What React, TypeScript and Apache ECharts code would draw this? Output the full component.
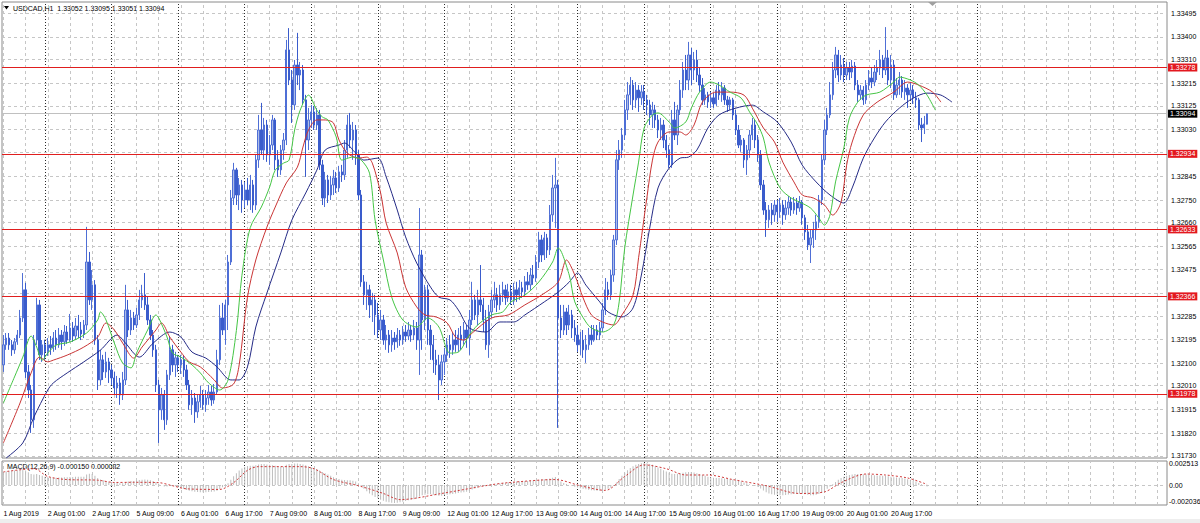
import React, { useEffect, useRef } from "react";
import * as echarts from "echarts";

// ---------- DATA (price points: 1.3 + v / 100000) ----------
// candles: [open, close, low, high]
const aug01 = [[2093,2173,2065,2212],[2173,2200,2153,2220],[2200,2173,2153,2220],[2173,2153,2129,2192],[2153,2185,2137,2200],[2185,2212,2173,2232],[2212,2280,2200,2312],[2280,2392,2264,2459],[2392,2065,2041,2420],[2065,1993,1961,2093],[1993,1874,1822,2013],[1874,2192,1842,2212],[2192,2332,2173,2360],[2332,2133,2113,2352],[2133,2173,2105,2192]];
const aug02 = [[2173,2145,2113,2192],[2145,2173,2129,2200],[2173,2161,2133,2208],[2161,2200,2145,2224],[2200,2173,2153,2232],[2173,2212,2161,2240],[2212,2185,2153,2232],[2185,2224,2169,2252],[2224,2192,2177,2248],[2192,2240,2185,2296],[2240,2208,2185,2264],[2208,2248,2192,2280],[2248,2232,2200,2292],[2232,2216,2192,2264],[2216,2252,2200,2272],[2252,2503,2232,2643],[2503,2352,2332,2543],[2352,2412,2312,2471],[2412,2192,2173,2431],[2192,2033,1993,2212],[2033,2113,2013,2153],[2113,2065,2033,2133],[2065,2105,2041,2145],[2105,2073,2021,2121]];
const aug05 = [[2073,2041,2013,2093],[2041,2001,1973,2065],[2001,2021,1961,2049],[2021,1973,1934,2041],[1973,2033,1953,2065],[2033,2312,2013,2412],[2312,2232,2204,2352],[2232,2280,2212,2312],[2280,2252,2232,2304],[2252,2292,2240,2320],[2292,2352,2272,2392],[2352,2372,2320,2412],[2372,2332,2312,2459],[2332,2272,2252,2364],[2272,2212,2192,2292],[2212,2153,2125,2232],[2153,2013,1985,2173],[2013,1914,1782,2033],[1914,1973,1874,2001],[1973,1874,1834,1993],[1874,2053,1854,2073],[2053,2153,2033,2204],[2153,2093,2065,2173],[2093,2121,2045,2145]];
const aug06 = [[2121,2093,2065,2133],[2093,2113,2057,2133],[2113,2073,2045,2129],[2073,2013,1993,2093],[2013,1934,1914,2033],[1934,1961,1894,1993],[1961,1906,1862,1981],[1906,1946,1882,1973],[1946,1973,1922,2009],[1973,1934,1914,1993],[1934,1961,1906,1993],[1961,1985,1934,2013],[1985,1953,1930,2009],[1953,1985,1938,2017],[1985,2113,1973,2153],[2113,2280,2093,2332],[2280,2232,2212,2340],[2232,2332,2173,2352],[2332,2503,2232,2531],[2503,2758,2491,2790],[2758,2870,2730,2898],[2870,2770,2730,2878],[2770,2810,2710,2838],[2810,2750,2699,2830]];
const aug07 = [[2750,2790,2718,2822],[2790,2750,2730,2838],[2750,2810,2710,2850],[2810,2730,2699,2830],[2730,2910,2710,2930],[2910,3029,2878,3089],[3029,2949,2930,3137],[2949,3049,2910,3077],[3049,2930,2902,3069],[2930,2969,2890,3009],[2969,3069,2949,3089],[3069,2910,2870,3077],[2910,2870,2842,2949],[2870,2949,2850,2969],[2949,2989,2910,3017],[2989,3348,2969,3388],[3348,3228,3208,3435],[3228,3129,3057,3268],[3129,3288,3109,3308],[3288,3248,3208,3416],[3248,3268,3188,3300],[3268,3149,3129,3288],[3149,2989,2842,3169],[2989,3069,2949,3117]];
const aug08 = [[3069,3101,3037,3129],[3101,3049,3029,3125],[3049,3089,3029,3117],[3089,2890,2870,3109],[2890,2758,2730,2910],[2758,2830,2722,2862],[2830,2770,2738,2850],[2770,2810,2750,2846],[2810,2838,2770,2870],[2838,2798,2778,2862],[2798,2862,2782,2886],[2862,2850,2822,2890],[2850,2949,2830,2989],[2949,3049,2918,3089],[3049,2989,2957,3097],[2989,3029,2910,3061],[3029,2930,2890,3049],[2930,2770,2750,2949],[2770,2424,2404,2790],[2424,2372,2332,2451],[2372,2392,2312,2424],[2392,2332,2280,2412],[2332,2352,2264,2380],[2352,2292,2212,2372]];
const aug09 = [[2292,2232,2200,2340],[2232,2272,2192,2312],[2272,2192,2173,2292],[2192,2212,2153,2252],[2212,2173,2141,2232],[2173,2200,2145,2232],[2200,2185,2153,2224],[2185,2212,2161,2240],[2212,2192,2169,2232],[2192,2224,2173,2248],[2224,2208,2185,2252],[2208,2232,2192,2264],[2232,2212,2185,2252],[2212,2240,2192,2272],[2240,2192,2153,2264],[2192,2531,2053,2718],[2531,2272,2153,2551],[2272,2392,2232,2412],[2392,2232,2173,2412],[2232,2173,2113,2252],[2173,2113,2061,2212],[2113,2093,2053,2153],[2093,2033,1953,2133],[2033,2105,2013,2133]];
const aug12 = [[2105,2133,2053,2161],[2133,2173,2105,2200],[2173,2153,2121,2212],[2153,2192,2133,2224],[2192,2173,2145,2232],[2173,2212,2145,2240],[2212,2192,2153,2248],[2192,2232,2173,2264],[2232,2200,2161,2252],[2200,2272,2133,2312],[2272,2352,2252,2424],[2352,2292,2272,2372],[2292,2352,2252,2392],[2352,2332,2304,2491],[2332,2272,2224,2360],[2272,2173,2153,2312],[2173,2304,2121,2332],[2304,2352,2280,2392],[2352,2372,2320,2424],[2372,2332,2304,2400],[2332,2372,2312,2412],[2372,2392,2344,2424],[2392,2360,2332,2412],[2360,2384,2344,2416]];
const aug13 = [[2384,2352,2332,2412],[2352,2392,2332,2420],[2392,2372,2344,2424],[2372,2400,2352,2431],[2400,2384,2360,2424],[2384,2424,2368,2447],[2424,2412,2392,2463],[2412,2451,2392,2479],[2451,2439,2412,2491],[2439,2503,2424,2531],[2503,2591,2479,2623],[2591,2531,2503,2611],[2531,2599,2511,2623],[2599,2551,2519,2615],[2551,2691,2531,2730],[2691,2798,2663,2850],[2798,2810,2639,2918],[2810,2280,1842,2830],[2280,2232,2200,2332],[2232,2304,2212,2332],[2304,2252,2212,2320],[2252,2292,2232,2332],[2292,2240,2200,2312],[2240,2212,2185,2272]];
const aug14 = [[2212,2173,2145,2252],[2173,2192,2133,2224],[2192,2153,2121,2232],[2153,2173,2101,2212],[2173,2212,2153,2240],[2212,2192,2173,2252],[2192,2232,2185,2252],[2232,2212,2192,2252],[2212,2240,2192,2264],[2240,2312,2224,2340],[2312,2392,2292,2439],[2392,2372,2352,2424],[2372,2451,2352,2471],[2451,2591,2424,2611],[2591,2910,2571,2949],[2910,2949,2870,2989],[2949,3009,2918,3037],[3009,3109,2989,3149],[3109,3169,3069,3220],[3169,3208,3129,3240],[3208,3149,3109,3228],[3149,3188,3117,3220],[3188,3157,3101,3208],[3157,3181,3129,3208]];
const aug15 = [[3181,3149,3109,3208],[3149,3129,3089,3169],[3129,3089,3049,3149],[3089,3109,3037,3141],[3109,3069,3037,3129],[3069,3029,2997,3089],[3029,3049,2989,3077],[3049,2989,2957,3069],[2989,2949,2918,3009],[2949,2890,2878,2969],[2890,3069,2878,3109],[3069,3009,2989,3141],[3009,3109,2969,3129],[3109,3188,3089,3228],[3188,3268,3157,3300],[3268,3228,3188,3328],[3228,3328,3188,3380],[3328,3268,3208,3356],[3268,3308,3228,3340],[3308,3248,3220,3348],[3248,3208,3181,3276],[3208,3149,3129,3236],[3149,3169,3129,3196],[3169,3141,3117,3181]];
const aug16 = [[3141,3157,3117,3181],[3157,3133,3117,3177],[3133,3188,3125,3208],[3188,3169,3149,3220],[3169,3196,3141,3220],[3196,3149,3129,3208],[3149,3129,3101,3165],[3129,3149,3109,3161],[3149,3089,3069,3157],[3089,3029,3009,3109],[3029,2969,2957,3049],[2969,2989,2942,3009],[2989,2910,2878,2997],[2910,2949,2850,2969],[2949,3009,2918,3029],[3009,3049,2989,3077],[3049,2989,2957,3069],[2989,2930,2902,3009],[2930,2810,2790,2949],[2810,2710,2691,2830],[2710,2671,2603,2742],[2671,2710,2639,2730],[2710,2691,2651,2738],[2691,2730,2663,2750]];
const aug19 = [[2730,2703,2663,2750],[2703,2730,2679,2758],[2730,2691,2651,2750],[2691,2718,2671,2750],[2718,2742,2691,2766],[2742,2710,2687,2758],[2710,2738,2695,2762],[2738,2718,2691,2758],[2718,2742,2703,2766],[2742,2679,2651,2750],[2679,2623,2591,2691],[2623,2571,2551,2651],[2571,2599,2499,2631],[2599,2631,2559,2663],[2631,2663,2591,2691],[2663,2750,2639,2770],[2750,2910,2730,2930],[2910,3029,2890,3069],[3029,3089,3009,3117],[3089,3169,3077,3220],[3169,3268,3149,3300],[3268,3328,3236,3360],[3328,3248,3220,3348],[3248,3288,3228,3328]];
const aug20 = [[3288,3248,3220,3316],[3248,3276,3228,3300],[3276,3260,3228,3300],[3260,3284,3236,3308],[3284,3208,3188,3300],[3208,3169,3141,3228],[3169,3188,3149,3208],[3188,3149,3129,3204],[3149,3208,3133,3228],[3208,3236,3188,3268],[3236,3220,3196,3276],[3220,3260,3204,3288],[3260,3276,3228,3308],[3276,3308,3248,3348],[3308,3268,3236,3328],[3268,3316,3248,3439],[3316,3228,3208,3348],[3228,3288,3196,3328],[3288,3169,3149,3308],[3169,3208,3157,3236],[3208,3228,3169,3260],[3228,3181,3157,3244],[3181,3196,3149,3228],[3196,3169,3117,3212]];
const aug21 = [[3169,3188,3149,3220],[3188,3157,3133,3208],[3157,3149,3117,3181],[3149,3049,3029,3157],[3049,3037,2981,3077],[3037,3053,3013,3085],[3052,3094,3051,3095]];

// Alligator lines: [bar index, value]
const lipsPts = [[0,1941],[4,2045],[7,2124],[10,2208],[12,2164],[14,2112],[16,2140],[19,2172],[24,2184],[30,2220],[34,2272],[35,2304],[37,2272],[40,2180],[43,2100],[46,2081],[48,2140],[52,2232],[55,2292],[56,2280],[59,2204],[61,2140],[64,2124],[68,2093],[71,2061],[74,2021],[78,1993],[81,2033],[84,2230],[86,2450],[89,2640],[93,2722],[96,2802],[98,2869],[101,2897],[103,2909],[105,3029],[107,3108],[110,3168],[113,3108],[115,3081],[117,3069],[120,3001],[122,2909],[126,2921],[129,2909],[132,2857],[134,2670],[137,2511],[140,2363],[144,2272],[149,2244],[153,2280],[157,2244],[161,2140],[164,2144],[168,2212],[171,2252],[176,2292],[180,2304],[183,2344],[188,2371],[193,2423],[198,2503],[200,2559],[204,2451],[206,2344],[210,2264],[212,2240],[216,2224],[220,2252],[222,2344],[224,2559],[227,2770],[229,2901],[231,3037],[234,3089],[236,3097],[240,3061],[242,3037],[246,3061],[248,3116],[251,3180],[255,3220],[258,3208],[262,3180],[266,3156],[269,3101],[272,3049],[274,2997],[276,2901],[280,2798],[284,2758],[287,2742],[291,2718],[294,2678],[296,2650],[298,2690],[300,2822],[303,2957],[305,3077],[308,3140],[311,3168],[316,3180],[321,3220],[323,3240],[327,3228],[330,3208],[333,3168],[336,3108]];
const teethPts = [[0,1782],[6,1941],[10,2061],[13,2124],[16,2105],[18,2112],[23,2132],[29,2164],[34,2204],[37,2260],[40,2232],[43,2180],[47,2120],[50,2164],[55,2232],[57,2260],[60,2204],[64,2144],[67,2105],[71,2085],[76,2033],[79,2001],[83,2017],[85,2093],[88,2363],[91,2511],[95,2642],[98,2722],[102,2818],[106,2881],[108,2961],[110,3029],[113,3069],[116,3069],[119,3057],[121,2989],[124,2937],[128,2917],[131,2921],[133,2897],[136,2778],[138,2658],[142,2539],[145,2403],[149,2324],[152,2292],[156,2284],[160,2260],[163,2204],[166,2192],[169,2220],[176,2280],[182,2292],[188,2332],[194,2371],[200,2423],[203,2511],[206,2451],[209,2360],[212,2292],[216,2264],[220,2252],[223,2292],[227,2371],[229,2520],[232,2760],[234,2909],[236,2981],[240,3021],[244,3021],[246,3009],[249,3049],[252,3140],[257,3180],[262,3180],[267,3168],[270,3116],[274,3037],[278,2981],[281,2901],[285,2822],[288,2770],[292,2758],[296,2730],[299,2690],[302,2742],[304,2889],[306,2981],[310,3089],[315,3140],[321,3180],[326,3220],[330,3208],[335,3180],[338,3140]];
const jawPts = [[1,1722],[7,1782],[11,1885],[16,1993],[18,2021],[23,2061],[29,2105],[35,2152],[41,2212],[44,2180],[49,2124],[54,2180],[60,2224],[64,2204],[68,2144],[73,2120],[77,2085],[82,2033],[85,2033],[88,2085],[91,2244],[95,2379],[100,2539],[104,2670],[109,2778],[113,2869],[116,2949],[121,2969],[123,2977],[127,2937],[130,2909],[135,2917],[138,2842],[142,2710],[145,2603],[149,2499],[154,2403],[157,2363],[161,2352],[164,2312],[168,2240],[174,2224],[179,2264],[184,2264],[188,2292],[195,2344],[200,2383],[204,2423],[207,2459],[210,2411],[215,2344],[218,2304],[223,2284],[227,2320],[230,2451],[233,2638],[236,2798],[240,2877],[244,2917],[247,2921],[250,2949],[254,3037],[258,3089],[264,3116],[270,3128],[274,3101],[279,3061],[284,2981],[288,2889],[293,2822],[298,2770],[303,2738],[306,2798],[310,2917],[314,2997],[318,3061],[323,3116],[328,3156],[333,3176],[338,3168],[342,3140]];

// MACD main (histogram), units of 1e-6, one per bar
const macdMain = [
  1500,1550,1600,1650,1650,1700,1750,1800,1650,1450,1250,1200,1250,1150,1050,
  950,900,880,850,850,860,870,880,900,920,930,940,950,950,960,1200,1300,1250,1050,800,650,550,450,380,
  350,300,250,220,200,350,420,460,480,520,580,620,650,620,560,480,350,150,0,-150,-150,-100,-100,-120,
  -250,-350,-450,-550,-650,-700,-750,-780,-800,-800,-800,-780,-760,-740,-650,-450,-250,-50,200,600,1000,1350,1650,1900,
  2050,2150,2200,2200,2250,2350,2400,2400,2350,2300,2250,2200,2150,2100,2100,2300,2400,2400,2450,2450,2400,2350,2250,2150,
  2000,1900,1800,1650,1500,1350,1200,1050,900,800,700,620,580,560,550,500,400,200,-100,-400,-700,-950,-1150,-1350,
  -1500,-1650,-1780,-1880,-1950,-2000,-2036,-2000,-1950,-1880,-1800,-1720,-1650,-1600,-1550,-1300,-1150,-1100,-1050,-1050,-1100,-1150,-1200,-1200,
  -1150,-1100,-1050,-1000,-950,-900,-850,-800,-750,-650,-500,-380,-280,-150,-100,-120,-50,0,60,120,180,230,280,320,
  350,380,400,420,440,460,480,500,520,560,620,660,680,700,760,850,920,600,400,250,120,0,-100,-200,
  -280,-350,-420,-480,-540,-580,-620,-650,-650,-620,-520,-420,-300,-100,300,700,1050,1400,1700,1950,2150,2300,2400,2480,
  2513,2490,2400,2300,2150,2000,1850,1700,1550,1400,1300,1250,1300,1350,1400,1450,1500,1480,1420,1350,1250,1150,1050,950,
  900,850,820,800,780,760,720,680,620,560,480,400,300,200,100,20,-80,-200,-380,-600,-800,-950,-1050,-1100,
  -1100,-1150,-1150,-1120,-1080,-1050,-1000,-980,-980,-1000,-1050,-1100,-1150,-1150,-1100,-1000,-850,-650,-400,-150,100,350,600,800,
  950,1050,1150,1200,1250,1250,1250,1230,1200,1180,1150,1130,1100,1080,1060,1050,1000,950,900,870,850,800,750,680,
  600,500,400,250,100,-50,-150,
];
const macdSignalPts = [[0,1500],[11,1860],[16,980],[23,630],[34,560],[40,300],[47,320],[56,280],[61,-70],[66,-420],[78,-490],[83,280],[88,1680],[92,2100],[107,2100],[112,1860],[119,630],[128,-70],[137,-950],[143,-1650],[158,-950],[175,0],[182,280],[199,630],[208,-70],[217,-600],[224,980],[231,2300],[239,1860],[246,1150],[254,1150],[263,630],[275,-70],[287,-950],[296,-770],[302,280],[311,1260],[318,1150],[326,810],[333,82]];

// right-axis price ticks; the two hidden behind level tags carry no label in the picture
const priceTicks = [1.33495,1.334,1.3331,1.33215,1.33125,1.3303,1.3294,1.32845,1.3275,1.3266,1.32565,1.32475,1.3238,1.32285,1.32195,1.321,1.3201,1.31915,1.3182,1.3173];
const hiddenTickLabels = [1.3294, 1.3238];
const levels = [1.33278,1.32934,1.32633,1.32366,1.31978];
const currentPrice = 1.33094;
const macdTicks = [0.002513, 0, -0.002036];
const macdTickText = ["0.002513", "0.00", "-0.002036"];
const timeTicks = ["1 Aug 2019","2 Aug 01:00","2 Aug 17:00","5 Aug 09:00","6 Aug 01:00","6 Aug 17:00","7 Aug 09:00","8 Aug 01:00","8 Aug 17:00","9 Aug 09:00","12 Aug 01:00","12 Aug 17:00","13 Aug 09:00","14 Aug 01:00","14 Aug 17:00","15 Aug 09:00","16 Aug 01:00","16 Aug 17:00","19 Aug 09:00","20 Aug 01:00","20 Aug 17:00"];
const daySeparators = [15,39,63,87,111,135,159,183,207,231,255,279,303,327,351];

// ---------- helpers ----------
const N_SLOTS = 420;
const FONT = "Liberation Sans";
const toPrice = (v: number) => Math.round(130000 + v) / 100000;
const candles = [...aug01, ...aug02, ...aug05, ...aug06, ...aug07, ...aug08, ...aug09, ...aug12, ...aug13, ...aug14, ...aug15, ...aug16, ...aug19, ...aug20, ...aug21].map((c) => c.map(toPrice));
const gridCols = Array.from({ length: 53 }, (_, k) => k * 8);

export default function App() {
  const ref = useRef<HTMLDivElement>(null);
  useEffect(() => {
    const chart = echarts.init(ref.current!, null, { renderer: "svg" });
    const cats = Array.from({ length: N_SLOTS }, (_, i) => String(i));
    const last = candles[candles.length - 1];
    const title = `USDCAD,H1  ${last[0].toFixed(5)} ${last[3].toFixed(5)} ${last[2].toFixed(5)} ${last[1].toFixed(5)}`;
    const lastMacd = macdMain[macdMain.length - 1] / 1e6;
    const lastSig = macdSignalPts[macdSignalPts.length - 1][1] / 1e6;
    const macdTitle = `MACD(12,26,9) ${lastMacd.toFixed(6)} ${lastSig.toFixed(6)}`;

    const gridLineStyle = { color: "#c6c6c6", type: [3, 3], width: 1 };
    const sepStyle = { color: "#2a2a2a", type: [1, 2], width: 1 };
    const vLines = [
      ...gridCols.map((i) => ({ xAxis: i, lineStyle: gridLineStyle, label: { show: false } })),
      ...daySeparators.map((i) => ({ xAxis: i, lineStyle: sepStyle, label: { show: false } })),
    ];
    const tickLabel = (text: string, extra: any = {}) => ({
      show: true, position: "end", formatter: text, color: "#000", fontSize: 7, fontFamily: FONT, distance: 4, ...extra,
    });

    const option: any = {
      animation: false,
      backgroundColor: "#ffffff",
      textStyle: { fontFamily: FONT },
      grid: [
        { left: 2, top: 2, width: 1165, height: 456, show: true, borderColor: "#8a8a8a", borderWidth: 1 },
        { left: 2, top: 461, width: 1165, height: 44, show: true, borderColor: "#8a8a8a", borderWidth: 1 },
      ],
      xAxis: [
        { type: "category", gridIndex: 0, data: cats, boundaryGap: true, show: false },
        {
          type: "category", gridIndex: 1, data: cats, boundaryGap: true,
          axisLine: { show: false }, axisTick: { show: false }, splitLine: { show: false },
          axisLabel: {
            interval: (i: number) => i % 16 === 0 && i / 16 < timeTicks.length,
            formatter: (_v: string, i: number) => timeTicks[i / 16] ?? "",
            align: "left", fontSize: 7, color: "#000", margin: 5, fontFamily: FONT,
          },
        },
      ],
      yAxis: [
        { type: "value", gridIndex: 0, min: 1.31722, max: 1.33539, show: false },
        { type: "value", gridIndex: 1, min: -0.00226, max: 0.00274, show: false },
      ],
      series: [
        {
          type: "line", name: "grid", xAxisIndex: 0, yAxisIndex: 0, data: [], clip: false, silent: true,
          markLine: {
            silent: true, symbol: ["none", "none"], z: 1, animation: false, precision: 6,
            data: [
              ...priceTicks.map((v) => ({
                yAxis: v, lineStyle: gridLineStyle,
                label: hiddenTickLabels.includes(v) ? { show: false } : tickLabel(v.toFixed(5)),
              })),
              ...vLines,
              { yAxis: currentPrice, lineStyle: { color: "#c0c0c0", type: "solid", width: 1 },
                label: tickLabel(currentPrice.toFixed(5), { backgroundColor: "#000", color: "#fff", padding: [1, 2, 0, 2], distance: 1 }) },
            ],
          },
        },
        {
          type: "line", name: "levels", xAxisIndex: 0, yAxisIndex: 0, data: [], clip: false, silent: true, z: 6,
          markLine: {
            silent: true, symbol: ["none", "none"], z: 8, animation: false, precision: 6,
            data: levels.map((v) => ({
              yAxis: v, lineStyle: { color: "#e01e1e", type: "solid", width: 1, opacity: 1 },
              label: tickLabel(v.toFixed(5), { backgroundColor: "#e3181f", color: "#fff", padding: [1, 2, 0, 2], distance: 1 }),
            })),
          },
        },
        {
          type: "candlestick", name: "USDCAD", xAxisIndex: 0, yAxisIndex: 0, data: candles, barWidth: 1.8, z: 3,
          itemStyle: { color: "#aebde8", color0: "#3a5ccc", borderColor: "#4f6fd6", borderColor0: "#3a5ccc", borderWidth: 1 },
        },
        { type: "line", name: "Jaw", xAxisIndex: 0, yAxisIndex: 0, z: 4, showSymbol: false, smooth: 0.3,
          data: jawPts.map(([i, v]) => [i, toPrice(v)]), lineStyle: { color: "#252b86", width: 1 } },
        { type: "line", name: "Teeth", xAxisIndex: 0, yAxisIndex: 0, z: 4, showSymbol: false, smooth: 0.3,
          data: teethPts.map(([i, v]) => [i, toPrice(v)]), lineStyle: { color: "#c93535", width: 1 } },
        { type: "line", name: "Lips", xAxisIndex: 0, yAxisIndex: 0, z: 4, showSymbol: false, smooth: 0.3,
          data: lipsPts.map(([i, v]) => [i, toPrice(v)]), lineStyle: { color: "#45c545", width: 1 } },
        {
          type: "line", name: "macdgrid", xAxisIndex: 1, yAxisIndex: 1, data: [], clip: false, silent: true,
          markLine: {
            silent: true, symbol: ["none", "none"], z: 1, animation: false, precision: 8,
            data: [
              ...macdTicks.map((v, k) => ({
                yAxis: v,
                lineStyle: k === 1 ? gridLineStyle : { color: "rgba(255,255,255,0)", width: 0 },
                label: tickLabel(macdTickText[k], { distance: 2, offset: [0, k === 0 ? 1 : k === 2 ? -2 : 0] }),
              })),
              ...vLines,
            ],
          },
        },
        { type: "bar", name: "MACD", xAxisIndex: 1, yAxisIndex: 1, z: 2, barWidth: 1,
          data: macdMain.map((v) => v / 1e6), itemStyle: { color: "#bdbdbd" } },
        { type: "line", name: "Signal", xAxisIndex: 1, yAxisIndex: 1, z: 3, showSymbol: false, smooth: 0.3,
          data: macdSignalPts.map(([i, v]) => [i, v / 1e6]), lineStyle: { color: "#d03a3a", type: [2, 2], width: 1 } },
      ],
      graphic: [
        { type: "polygon", shape: { points: [[4, 6], [9, 6], [6.5, 9.5]] }, style: { fill: "#000" } },
        { type: "text", x: 13, y: 8, style: { text: title, fill: "#000", font: `7px "${FONT}"`, verticalAlign: "middle" } },
        { type: "text", x: 7, y: 466, style: { text: macdTitle, fill: "#000", font: `7px "${FONT}"`, verticalAlign: "middle" } },
        { type: "polygon", shape: { points: [[928, 2], [937, 2], [932.5, 6]] }, style: { fill: "#a0a0a0" } },
        { type: "rect", shape: { x: 0, y: 519, width: 1200, height: 4 }, style: { fill: "#eeeeee" } },
      ],
    };
    chart.setOption(option);
    return () => chart.dispose();
  }, []);
  return <div ref={ref} style={{ position: "fixed", left: 0, top: 0, width: 1200, height: 523, background: "#fff" }} />;
}
